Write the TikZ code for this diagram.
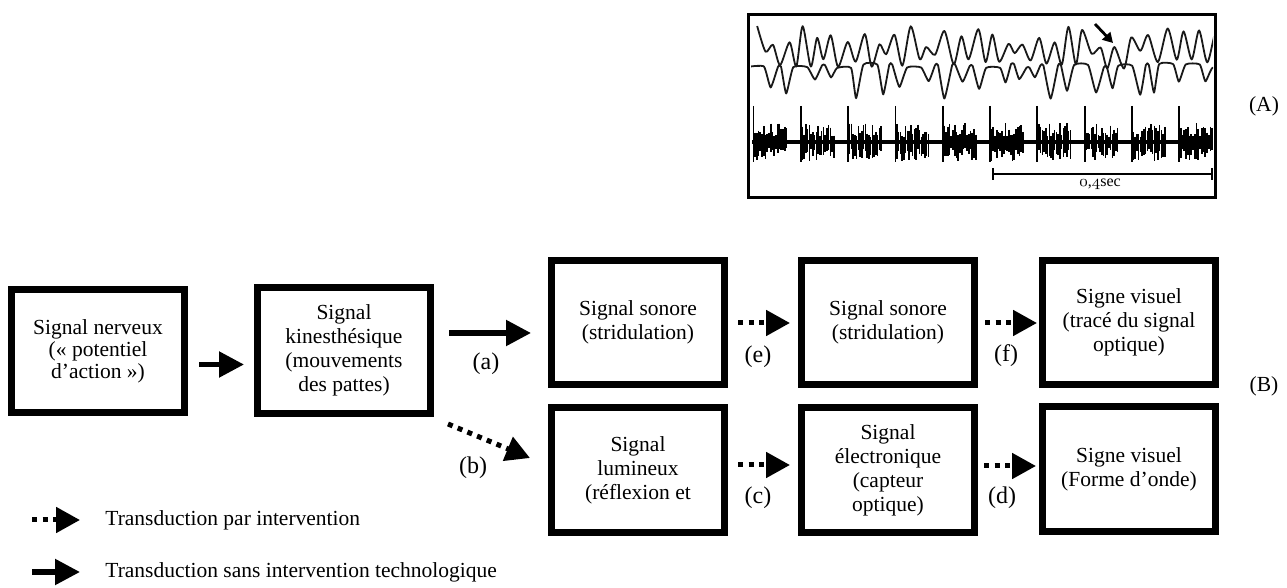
\documentclass[tikz,border=0pt]{standalone}
\usepackage{fontspec}
\setmainfont{Liberation Serif}
\usetikzlibrary{arrows.meta,calc}
\newcommand\osnum[1]{{\usefont{OML}{cmm}{m}{it}#1}}
\begin{document}
\begin{tikzpicture}[x=0.5pt,y=-0.5pt,
  box/.style={draw, line width=3.5pt, minimum width=86.5pt, minimum height=62pt, inner sep=0pt, align=center, font=\fontsize{10.75}{12}\selectfont},
  lbl/.style={font=\fontsize{12}{14}\selectfont, inner sep=0pt},
  legtxt/.style={font=\fontsize{10.75}{13}\selectfont, inner sep=0pt, anchor=west},
  solidarr/.style={line width=2.6pt, -{Triangle[length=12.5pt,width=12.5pt]}},
  dotarr/.style={line width=2.5pt, dash pattern=on 2.5pt off 2.75pt, -{Triangle[length=12pt,width=12.5pt]}},
  trace/.style={line width=0.9pt, black!90, line join=round}]
\useasboundingbox (0,0) rectangle (1287,588);
\fill[white] (0,0) rectangle (1287,588);

% ---------- (A) waveform panel ----------
\node[draw, line width=1.5pt, minimum width=233.5pt, minimum height=91.5pt, inner sep=0pt] (wave) at (982,106) {};
\begin{scope}
\clip (751,17) rectangle (1213,195);
\pgfmathsetseed{4242}
% trace 1
\def\ptsA{}
\xdef\xc{750}
\foreach \i in {0,...,62}{
  \pgfmathsetmacro\st{6+4*rnd}
  \pgfmathsetmacro\xx{\xc+\st}
  \pgfmathsetmacro\rr{rnd}
  \pgfmathsetmacro\yy{mod(\i,2)==0 ? (\rr<0.25 ? 42+6*rnd : 26+12*rnd) : (\rr<0.25 ? 50+5*rnd : 58+11*rnd)}
  \xdef\ptsA{\ptsA (\xx,\yy)}
  \xdef\xc{\xx}
}
\edef\tmp{\noexpand\draw[trace] plot[smooth,tension=0.45] coordinates {\ptsA};}\tmp
% trace 2
\def\ptsB{}
\xdef\xc{750}
\foreach \i in {1,...,34}{
  \pgfmathsetmacro\w{rnd<0.35 ? 14 : 3}
  \pgfmathsetmacro\yt{64+4*rnd}
  \pgfmathsetmacro\xa{\xc}
  \pgfmathsetmacro\xb{\xc+\w}
  \pgfmathsetmacro\xt{\xb+5+3*rnd}
  \pgfmathsetmacro\yb{rnd<0.3 ? 77+6*rnd : 86+14*rnd}
  \pgfmathsetmacro\xn{\xt+5+3*rnd}
  \xdef\ptsB{\ptsB (\xa,\yt) (\xb,\yt) (\xt,\yb)}
  \xdef\xc{\xn}
}
\edef\tmp{\noexpand\draw[trace] plot[smooth,tension=0.3] coordinates {\ptsB};}\tmp
% trace 3: bursts
\draw[line width=1.8pt] (752,142) -- (1213,142);
\foreach \k in {0,...,9}{
  \pgfmathsetmacro\xo{752+\k*47.3}
  \draw[line width=0.9pt] (\xo+1.5,106) -- (\xo+1.5,162);
  \foreach \j in {0,...,18}{
    \pgfmathsetmacro\xs{\xo+3+\j*1.75}
    \pgfmathsetmacro\ha{5+14*rnd}
    \pgfmathsetmacro\hb{6+13*rnd}
    \draw[line width=0.8pt] (\xs,142-\ha) -- (\xs,142+\hb);
  }
}
\end{scope}
\coordinate (arA) at (1095,24);
\coordinate (arB) at (1113,43);
\draw[line width=1.4pt, -{Triangle[length=5pt,width=5.5pt]}] (arA) -- (arB);
% scale bar
\coordinate (sb1) at (993,174);
\coordinate (sb2) at (1212,174);
\draw[line width=0.6pt] (sb1) -- (sb2);
\draw[line width=0.6pt] ($(sb1)+(0,-6)$) -- ($(sb1)+(0,6)$);
\draw[line width=0.6pt] ($(sb2)+(0,-6)$) -- ($(sb2)+(0,6)$);
\node[font=\fontsize{8}{9}\selectfont, inner sep=0pt] (sbl) at (1100,184) {\osnum{0},\osnum{4}sec};
\node[font=\fontsize{10.75}{12}\selectfont, inner sep=0pt] (labA) at (1264,106) {(A)};

% ---------- (B) chain ----------
\node[box, minimum height=61.5pt, font=\fontsize{10.75}{11}\selectfont] (b1) at (98,351) {Signal nerveux\\(« potentiel\\d’action »)};
\node[box, minimum height=63pt] (b2) at (344,350.5) {Signal\\kinesthésique\\(mouvements\\des pattes)};
\node[box] (b3) at (638,322.5) {Signal sonore\\(stridulation)};
\node[box] (b4) at (888,322.5) {Signal sonore\\(stridulation)};
\node[box] (b5) at (1129,322.5) {Signe visuel\\(tracé du signal\\optique)};
\node[box, minimum height=62.5pt] (b6) at (638,470) {Signal\\lumineux\\(réflexion et};
\node[box, minimum height=62.5pt] (b7) at (888,470.5) {Signal\\électronique\\(capteur\\optique)};
\node[box, minimum height=62.5pt] (b8) at (1129,469.5) {Signe visuel\\(Forme d’onde)};
\node[font=\fontsize{10.75}{12}\selectfont, inner sep=0pt] (labB) at (1264,386) {(B)};

\draw[solidarr] ($(b1.east)+(11,13.5)$) -- ($(b2.west)+(-10,14)$);
\draw[solidarr] ($(b2.east)+(15,-17.5)$) -- ($(b3.west)+(-17,10.5)$);
\draw[dotarr] ($(b2.south east)+(14,7)$) -- ($(b6.west)+(-18,-12)$);
\draw[dotarr] ($(b3.east)+(10,0.5)$) -- ($(b4.west)+(-8,0.5)$);
\draw[dotarr] ($(b4.east)+(7,0.5)$) -- ($(b5.west)+(-2,0.5)$);
\draw[dotarr] ($(b6.east)+(10,-5)$) -- ($(b7.west)+(-8,-5.5)$);
\draw[dotarr] ($(b7.east)+(6,-4.5)$) -- ($(b8.west)+(-3,-3.5)$);

\node[lbl] (la) at (486,364) {(a)};
\node[lbl] (lb) at (473,468) {(b)};
\node[lbl] (le) at (758,357) {(e)};
\node[lbl] (lf) at (1006,356) {(f)};
\node[lbl] (lc) at (758,498) {(c)};
\node[lbl] (ld) at (1002,498) {(d)};

% ---------- legend ----------
\coordinate (l1a) at (32,520);
\coordinate (l1b) at (80,520);
\draw[dotarr] (l1a) -- (l1b);
\node[legtxt] (t1) at (105,520) {Transduction par intervention};
\coordinate (l2a) at (32,572);
\coordinate (l2b) at (80,572);
\draw[solidarr] (l2a) -- (l2b);
\node[legtxt] (t2) at (105,572) {Transduction sans intervention technologique};
\end{tikzpicture}
\end{document}
